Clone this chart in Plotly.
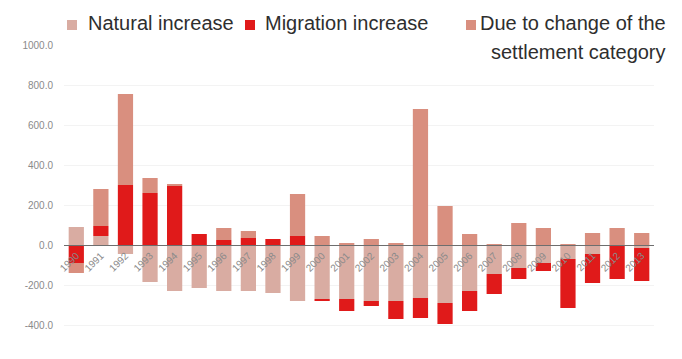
import plotly.graph_objects as go

# Population change components by year
years = [str(y) for y in range(1990, 2014)]
natural_increase = [90, 45, -45, -185, -230, -215, -230, -230, -240, -280, -270, -270,
                    -280, -280, -265, -290, -230, -145, -115, -90, -70, -45, -5, -15]
migration_increase = [-90, 50, 300, 260, 295, 55, 25, 35, 30, 45, -10, -60,
                      -25, -90, -100, -105, -100, -100, -55, -40, -245, -145, -165, -165]
settlement_change = [-50, 185, 455, 75, 10, 0, 60, 35, 0, 210, 45, 10,
                     30, 10, 680, 195, 55, 5, 110, 85, 5, 60, 85, 60]

y_ticks = [-400, -200, 0, 200, 400, 600, 800, 1000]
y_tick_text = [f"{v:.1f}" for v in y_ticks]

c_nat = "#d9aca2"
c_mig = "#e01a1a"
c_set = "#d98f7f"

fig = go.Figure()
fig.add_bar(x=years, y=natural_increase, name="Natural increase", marker_color=c_nat,
            marker_line_width=0)
fig.add_bar(x=years, y=migration_increase, name="Migration increase", marker_color=c_mig,
            marker_line_width=0)
fig.add_bar(x=years, y=settlement_change, name="Due to change of the settlement category",
            marker_color=c_set, marker_line_width=0)

W, H = 682, 359
L, R, T, B = 64, 28, 45, 14
y_min, y_max = -500, 1000
zero_pos = (0 - y_min) / (y_max - y_min)

fig.update_layout(
    width=W, height=H,
    margin=dict(l=L, r=R, t=T, b=B),
    barmode="relative",
    bargap=0.38,
    plot_bgcolor="white",
    paper_bgcolor="white",
    showlegend=False,
    font=dict(family="Liberation Sans, Arial, sans-serif"),
    xaxis=dict(
        type="category",
        anchor="free",
        position=zero_pos,
        showline=True, linecolor="#6e6e6e", linewidth=1,
        ticks="", tickangle=-45,
        tickfont=dict(size=10, color="#8a8a8a"),
        showgrid=False, zeroline=False,
        layer="above traces",
    ),
    yaxis=dict(
        range=[y_min, y_max],
        tickvals=y_ticks, ticktext=y_tick_text,
        tickfont=dict(size=10, color="#8a8a8a"),
        ticklabelstandoff=10,
        showgrid=True, gridcolor="#f3f3f3", gridwidth=1,
        zeroline=False, showline=False,
    ),
)

# Legend drawn as text with square swatches
pw, ph = W - L - R, H - T - B


def px_x(x):
    return (x - L) / pw


def px_y(y):
    return (H - B - y) / ph


legend_items = [
    (72, c_nat, 86, "Natural increase"),
    (250, c_mig, 263, "Migration increase"),
]
for cx, col, tx, label in legend_items:
    fig.add_shape(type="rect", xref="paper", yref="paper",
                  x0=px_x(cx - 5), x1=px_x(cx + 5), y0=px_y(30), y1=px_y(20),
                  fillcolor=col, line_width=0)
    fig.add_annotation(xref="paper", yref="paper", x=px_x(tx), y=px_y(23),
                       xanchor="left", yanchor="middle", showarrow=False,
                       text=label, font=dict(size=20, color="#2e2e2e"))

fig.add_shape(type="rect", xref="paper", yref="paper",
              x0=px_x(466), x1=px_x(476), y0=px_y(30), y1=px_y(20),
              fillcolor=c_set, line_width=0)
fig.add_annotation(xref="paper", yref="paper", x=px_x(668), y=px_y(23),
                   xanchor="right", yanchor="middle", showarrow=False,
                   text="Due to change of the", font=dict(size=20, color="#2e2e2e"))
fig.add_annotation(xref="paper", yref="paper", x=px_x(668), y=px_y(52),
                   xanchor="right", yanchor="middle", showarrow=False,
                   text="settlement category", font=dict(size=20, color="#2e2e2e"))

fig.write_html("out.html")
